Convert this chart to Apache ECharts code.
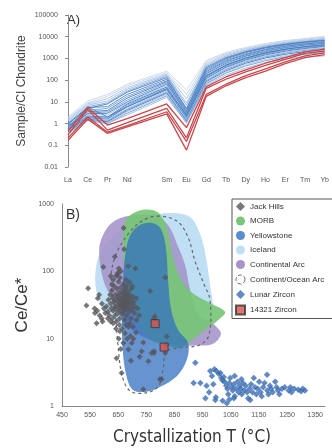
<!DOCTYPE html>
<html>
<head>
<meta charset="utf-8">
<script src="https://cdn.jsdelivr.net/npm/echarts@6/dist/echarts.min.js"></script>
<style>
html, body { margin: 0; padding: 0; background: #fff; }
#chart { width: 332px; height: 448px; }
</style>
</head>
<body>
<div id="chart"></div>
<script>
// ---- panel A: chondrite-normalised REE patterns ----
const elements = ["La", "Ce", "Pr", "Nd", "", "Sm", "Eu", "Gd", "Tb", "Dy", "Ho", "Er", "Tm", "Yb"];

const blueLines = [
  [2.0, 11, 22, 65, null, 260, 36, 800, 1900, 3200, 4900, 6700, 8300, 10500],
  [1.7, 9, 18, 55, null, 220, 22, 680, 1700, 2900, 4400, 6100, 7700, 9500],
  [1.5, 8, 14, 45, null, 190, 14, 560, 1500, 2600, 4000, 5600, 7000, 8500],
  [1.3, 7, 11, 38, null, 170, 9, 480, 1300, 2400, 3700, 5100, 6400, 7800],
  [1.1, 6, 9, 32, null, 150, 7, 420, 1150, 2150, 3400, 4700, 6000, 7200],
  [1.0, 5, 8, 28, null, 130, 5, 370, 1050, 2000, 3200, 4500, 5700, 6800],
  [0.9, 5.5, 6, 22, null, 110, 4.5, 320, 950, 1850, 3000, 4200, 5400, 6400],
  [0.8, 4, 5, 18, null, 95, 4, 280, 850, 1650, 2700, 3900, 5000, 6000],
  [0.75, 3.5, 4, 15, null, 85, 3.5, 250, 760, 1500, 2500, 3600, 4600, 5500],
  [0.7, 3, 3.5, 12, null, 75, 3, 220, 680, 1350, 2250, 3300, 4300, 5100],
  [0.65, 2.8, 3, 10, null, 65, 2.8, 195, 600, 1250, 2050, 3050, 4000, 4800],
  [0.6, 2.5, 2.5, 9, null, 55, 2.5, 170, 540, 1120, 1900, 2850, 3700, 4500],
  [0.55, 2.2, 2, 8, null, 48, 2.2, 150, 480, 1020, 1750, 2600, 3400, 4100],
  [0.5, 2, 1.8, 7, null, 42, 2, 135, 430, 920, 1600, 2350, 3100, 3800],
  [0.5, 1.8, 1.6, 6, null, 36, 1.8, 120, 390, 840, 1450, 2150, 2850, 3500],
  [0.45, 1.7, 1.4, 5, null, 32, 1.6, 105, 350, 760, 1320, 1950, 2600, 3200],
  [0.42, 1.6, 1.3, 4.5, null, 28, 1.4, 95, 310, 680, 1180, 1750, 2350, 2900],
  [0.4, 1.5, 1.2, 4, null, 25, 1.3, 85, 270, 600, 1050, 1550, 2050, 2550],
  [0.38, 1.5, 1.1, 3.5, null, 22, 1.2, 75, 240, 520, 900, 1350, 1750, 2150],
  [0.35, 1.4, 1.0, 3, null, 19, 1.1, 68, 210, 450, 780, 1180, 1550, 1850],
  [0.35, 1.5, 1.0, 2.5, null, 16, 1.05, 60, 170, 360, 640, 940, 1180, 1300],
  [0.6, 6, 2, 6, null, 40, 2.5, 160, 500, 1050, 1800, 2700, 3500, 4300]
];
const blueShades = ["#cbd6e6", "#c2d2e8", "#a9c3e3", "#9dbbe0", "#7aa4d6", "#3f78c0",
  "#4a80c4", "#6f9bd2", "#3d76be", "#6d9ad2", "#3f78c0", "#9cbbe0", "#3a73bc",
  "#6b98d0", "#3f78c0", "#a3c0e2", "#6d9ad2", "#3f78c0", "#a9c4e4", "#6f9cd3",
  "#9fbde1", "#4a80c4"];

const redLines = [
  [0.45, 5.5, 0.85, 1.7, null, 8, 0.65, 50, 140, 300, 600, 1100, 2000, 2700],
  [0.3, 4.5, 0.5, 1.1, null, 5, 0.22, 42, 110, 240, 480, 900, 1700, 2200],
  [0.22, 2.0, 0.4, 0.8, null, 3.5, 0.15, 22, 65, 160, 330, 700, 1300, 1800],
  [0.17, 1.6, 0.35, 0.7, null, 2.8, 0.06, 18, 55, 130, 260, 580, 1100, 1500]
];

// ---- panel B: Ce/Ce* vs crystallization T ----
const jackHills = [
  [669, 440], [671, 212], [638, 165], [597, 116], [652, 110], [659, 100], [649, 95], [685, 120],
  [711, 110], [623, 85], [642, 85], [628, 64], [543, 56], [582, 45], [763, 51], [817, 81],
  [537, 31], [567, 24], [573, 17], [591, 20], [577, 40], [566, 28], [575, 26], [584, 22], [594, 18],
  [644, 5.1], [662, 3.1], [713, 12.4], [739, 8.8], [733, 6.5], [695, 4.7], [757, 4.6], [739, 1.77],
  [798, 2.5], [674, 12], [698, 8.6], [726, 5.4], [769, 6.1], [715, 19], [686, 15], [656, 12.9],
  [668, 8.6], [686, 6.9], [777, 6.5], [820, 8.1], [780, 21.5], [778, 20], [822, 10.8], [817, 6.1],
  [777, 6.1], [804, 2.5],
  [608, 30], [613, 25], [615, 38], [618, 22], [621, 45], [623, 33], [625, 28], [628, 52], [629, 20],
  [630, 40], [632, 26], [634, 35], [636, 60], [637, 30], [639, 22], [640, 45], [642, 38], [643, 27],
  [644, 18], [646, 55], [647, 32], [648, 42], [650, 24], [651, 70], [652, 36], [653, 29], [654, 48],
  [655, 20], [656, 40], [657, 33], [658, 26], [659, 58], [660, 44], [661, 30], [662, 37], [663, 23],
  [664, 50], [665, 34], [666, 28], [667, 42], [668, 65], [669, 31], [670, 25], [671, 47], [672, 36],
  [673, 19], [674, 55], [675, 40], [676, 30], [677, 27], [678, 45], [678, 35], [679, 60], [680, 22],
  [681, 38], [682, 32], [684, 50], [685, 28], [686, 42], [687, 35], [689, 25], [690, 45], [692, 30],
  [693, 38], [695, 20], [696, 55], [698, 33], [700, 27], [702, 42], [704, 35], [707, 24], [709, 30],
  [714, 40], [719, 28], [724, 22], [632, 75], [647, 90], [656, 80], [678, 75], [690, 68], [700, 60],
  [654, 16], [663, 14], [677, 16], [690, 17], [702, 15], [642, 14], [632, 17], [623, 18], [613, 20],
  [604, 24], [599, 28], [592, 33], [682, 10], [693, 11], [704, 10], [652, 10], [659, 7]
];

const lunarZircon = [
  [924, 4.4], [918, 2.2], [942, 2.2], [960, 1.3], [964, 2.0], [973, 1.6], [977, 3.3], [983, 2.8],
  [988, 2.1], [992, 3.5], [995, 1.23], [997, 1.35], [999, 3.3], [1007, 3.0], [1013, 3.1],
  [1016, 2.6], [1021, 2.4], [1021, 1.2], [1025, 2.7], [1028, 2.3], [1034, 2.0], [1036, 1.1],
  [1038, 1.8], [1041, 1.5], [1045, 2.2], [1045, 1.25], [1048, 2.6], [1053, 1.9], [1057, 1.7],
  [1061, 2.1], [1061, 1.3], [1064, 1.4], [1064, 2.8], [1069, 1.8], [1074, 2.3], [1078, 1.6],
  [1082, 2.0], [1086, 1.8], [1088, 2.5], [1089, 1.5], [1093, 2.2], [1098, 1.7], [1103, 2.0],
  [1108, 1.6], [1112, 1.3], [1117, 1.8], [1119, 1.23], [1122, 2.1], [1127, 1.6], [1132, 2.6],
  [1136, 1.9], [1141, 1.5], [1146, 1.8], [1151, 2.3], [1156, 1.6], [1160, 1.4], [1165, 1.9],
  [1170, 2.2], [1179, 2.9], [1180, 1.7], [1184, 1.5], [1189, 2.0], [1194, 1.8], [1199, 1.6],
  [1208, 2.3], [1213, 1.9], [1218, 1.7], [1223, 1.5], [1232, 1.8], [1242, 1.9], [1256, 1.7],
  [1262, 1.9], [1266, 1.6], [1276, 1.8], [1290, 1.75], [1300, 1.65], [1306, 1.8], [1314, 1.7]
];

const zircon14321 = [[781, 16.7], [813, 7.5]];

// field outlines as [T, Ce/Ce*]
const icelandField = [[571, 115], [592, 213], [631, 333], [685, 503], [763, 662], [834, 734],
  [905, 640], [941, 357], [962, 162], [976, 64], [987, 27], [969, 15.6], [923, 11.1], [834, 9.7],
  [727, 11.5], [649, 18], [596, 29], [571, 54]];
const contArcField = [[582, 213], [603, 395], [642, 577], [710, 685], [781, 662], [827, 486],
  [859, 253], [887, 127], [905, 54], [934, 23], [987, 16.7], [1015, 11.9], [987, 8.4], [923, 7.9],
  [852, 8.1], [763, 9.7], [710, 12.7], [663, 20.6], [628, 38], [596, 76]];
const morbField = [[685, 640], [734, 813], [788, 760], [820, 486], [838, 213], [855, 115],
  [884, 64], [926, 44], [976, 34], [1030, 25], [1008, 19.2], [959, 13.6], [916, 9.7], [870, 7.3],
  [816, 8.1], [763, 9.7], [710, 19.2], [681, 54], [667, 213], [670, 454]];
const yellowstoneField = [[727, 486], [770, 520], [802, 424], [820, 213], [827, 76], [838, 27],
  [862, 13.6], [898, 8.7], [894, 4.9], [859, 2.8], [798, 1.92], [745, 1.62], [702, 1.73],
  [681, 2.6], [667, 5.8], [663, 19], [667, 76], [678, 213], [695, 357]];
const contOceanArcField = [[788, 662], [859, 557], [898, 322], [923, 141], [955, 64], [976, 38],
  [973, 11.5], [941, 8.1], [870, 7.3], [820, 6.4], [809, 3.4], [791, 1.92], [745, 1.56],
  [692, 1.67], [663, 2.9], [649, 8.1], [638, 27], [624, 69], [638, 162], [685, 357], [734, 557]];

const font = "Liberation Sans";
const chart = echarts.init(document.getElementById("chart"));

function fieldSeries(name, outline, style, color) {
  return {
    type: "custom",
    name: name,
    xAxisIndex: 1,
    yAxisIndex: 1,
    silent: true,
    data: [outline[0]],
    itemStyle: { color: color },
    renderItem: (params, api) => ({
      type: "polygon",
      shape: { points: outline.map((p) => api.coord(p)), smooth: 0.35 },
      style: style,
    }),
  };
}

const lineSeries = [];
blueLines.forEach((vals, k) => {
  lineSeries.push({
    type: "line",
    xAxisIndex: 0,
    yAxisIndex: 0,
    silent: true,
    symbol: "none",
    connectNulls: true,
    data: vals.map((v, i) => [i, v]),
    lineStyle: { width: 1, color: blueShades[k], opacity: 0.9 },
  });
});
redLines.forEach((vals) => {
  lineSeries.push({
    type: "line",
    xAxisIndex: 0,
    yAxisIndex: 0,
    silent: true,
    symbol: "none",
    connectNulls: true,
    data: vals.map((v, i) => [i, v]),
    lineStyle: { width: 1.3, color: "#c8474b" },
  });
});

const plainNum = (v) => String(+Number(v).toPrecision(6));
const tickText = { fontSize: 7, color: "#555", fontFamily: font };

chart.setOption({
  animation: false,
  grid: [
    { left: 68, right: 3, top: 15, bottom: 281 },
    { left: 62, right: 7, top: 204, bottom: 42 },
  ],
  xAxis: [
    {
      type: "value",
      gridIndex: 0,
      min: 0,
      max: 13,
      interval: 1,
      axisLine: { show: false },
      axisTick: { show: false },
      splitLine: { show: false },
      axisLabel: { ...tickText, margin: 10, formatter: (v) => elements[v] || "" },
    },
    {
      type: "value",
      gridIndex: 1,
      min: 450,
      max: 1385,
      interval: 100,
      axisLine: { lineStyle: { color: "#888" } },
      axisTick: { show: false },
      splitLine: { show: false },
      axisLabel: { ...tickText, margin: 6, showMaxLabel: false, formatter: plainNum },
    },
  ],
  yAxis: [
    {
      type: "log",
      gridIndex: 0,
      logBase: 10,
      min: 0.01,
      max: 100000,
      offset: 6,
      axisLine: { show: true, lineStyle: { color: "#888" } },
      axisTick: { show: true, length: 3, lineStyle: { color: "#888" } },
      splitLine: { show: false },
      axisLabel: { ...tickText, margin: 4, formatter: plainNum },
      name: "Sample/CI Chondrite",
      nameLocation: "middle",
      nameGap: 34,
      nameMoveOverlap: false,
      nameTextStyle: { fontSize: 12, color: "#444", fontFamily: font },
    },
    {
      type: "log",
      gridIndex: 1,
      logBase: 10,
      min: 1,
      max: 1000,
      axisLine: { show: true, lineStyle: { color: "#888" } },
      axisTick: { show: false },
      splitLine: { show: false },
      axisLabel: { ...tickText, margin: 8, formatter: plainNum },
      name: "Ce/Ce*",
      nameLocation: "middle",
      nameGap: 31,
      nameMoveOverlap: false,
      nameTextStyle: { fontSize: 17, color: "#333", fontFamily: font },
    },
  ],
  legend: {
    orient: "vertical",
    left: 232,
    top: 199,
    itemWidth: 9,
    itemHeight: 9,
    itemGap: 5.5,
    padding: [3, 10, 3, 3],
    borderColor: "#555",
    borderWidth: 1,
    selectedMode: false,
    textStyle: { fontSize: 8, color: "#333", fontFamily: font },
    data: [
      { name: "Jack Hills", icon: "diamond" },
      { name: "MORB", icon: "circle" },
      { name: "Yellowstone", icon: "circle" },
      { name: "Iceland", icon: "circle" },
      { name: "Continental Arc", icon: "circle" },
      {
        name: "Continent/Ocean Arc",
        icon: "circle",
        itemStyle: { color: "#fff", borderColor: "#666", borderWidth: 1, borderType: "dashed" },
      },
      { name: "Lunar Zircon", icon: "diamond" },
      { name: "14321 Zircon", icon: "rect" },
    ],
  },
  graphic: [
    { type: "text", left: 67, top: 14, style: { text: "A)", fontSize: 13, fill: "#333", fontFamily: font } },
    { type: "text", left: 66, top: 208, style: { text: "B)", fontSize: 14, fill: "#333", fontFamily: font } },
    {
      type: "text",
      x: 192,
      y: 438,
      style: {
        text: "Crystallization T (°C)",
        fontSize: 17,
        fill: "#333",
        fontFamily: "'Liberation Sans Narrow', 'DejaVu Sans Condensed', 'Open Sans'",
        align: "center",
        verticalAlign: "middle",
      },
    },
  ],
  series: [
    ...lineSeries,
    fieldSeries("Iceland", icelandField, { fill: "#bfe0f4" }, "#bfe0f4"),
    fieldSeries("Continental Arc", contArcField, { fill: "#a593ca", opacity: 0.88 }, "#a593ca"),
    fieldSeries("MORB", morbField, { fill: "#78c678", opacity: 0.92 }, "#78c678"),
    fieldSeries("Yellowstone", yellowstoneField, { fill: "#316fbf", opacity: 0.74 }, "#5b8ccc"),
    fieldSeries("Continent/Ocean Arc", contOceanArcField,
      { fill: "none", stroke: "#666", lineWidth: 1.2, lineDash: [3, 3] }, "#666"),
    {
      type: "scatter",
      name: "Jack Hills",
      xAxisIndex: 1,
      yAxisIndex: 1,
      silent: true,
      symbol: "diamond",
      symbolSize: 6,
      data: jackHills,
      itemStyle: { color: "#56565b" },
    },
    {
      type: "scatter",
      name: "Lunar Zircon",
      xAxisIndex: 1,
      yAxisIndex: 1,
      silent: true,
      symbol: "diamond",
      symbolSize: 6.5,
      data: lunarZircon,
      itemStyle: { color: "#3b6db3" },
    },
    {
      type: "scatter",
      name: "14321 Zircon",
      xAxisIndex: 1,
      yAxisIndex: 1,
      silent: true,
      symbol: "rect",
      symbolSize: 8,
      data: zircon14321,
      itemStyle: { color: "#d9534f", borderColor: "#333", borderWidth: 1 },
    },
  ],
});
</script>
</body>
</html>
